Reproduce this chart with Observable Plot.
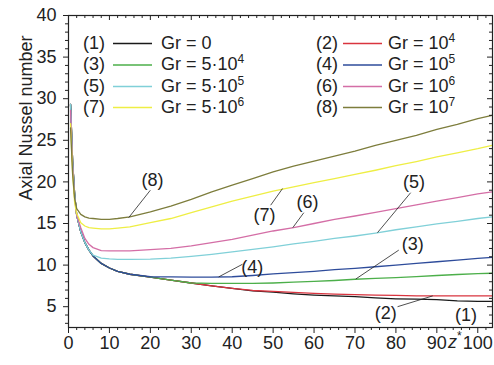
<!DOCTYPE html>
<html><head><meta charset="utf-8">
<script src="https://cdn.jsdelivr.net/npm/d3@7"></script>
<script src="https://cdn.jsdelivr.net/npm/@observablehq/plot@0.6"></script>
<style>body{margin:0;background:#fff}</style>
</head><body><div id="chart"></div>
<script>
// axial positions z*
const zValues = [0.5, 1, 1.5, 2, 3, 4, 5, 6, 8, 10, 12, 15, 20, 25, 30, 35, 40, 45, 50, 55, 60, 65, 70, 75, 80, 85, 90, 95, 100, 103.5];
// Axial Nusselt number per Grashof number
const nu1 = [29.3, 22.5, 18.5, 16.0, 14.0, 12.7, 11.8, 11.1, 10.2, 9.65, 9.25, 8.9, 8.55, 8.2, 7.85, 7.5, 7.2, 6.9, 6.75, 6.55, 6.4, 6.3, 6.2, 6.05, 5.95, 5.9, 5.85, 5.7, 5.65, 5.65];
const nu2 = [29.3, 22.5, 18.5, 16.0, 14.0, 12.7, 11.8, 11.1, 10.2, 9.65, 9.25, 8.9, 8.55, 8.2, 7.85, 7.5, 7.2, 6.95, 6.85, 6.72, 6.6, 6.5, 6.45, 6.4, 6.35, 6.3, 6.3, 6.3, 6.3, 6.3];
const nu3 = [29.3, 22.5, 18.5, 16.0, 14.0, 12.7, 11.8, 11.1, 10.2, 9.65, 9.25, 8.9, 8.55, 8.2, 7.85, 7.8, 7.8, 7.8, 7.85, 7.95, 8.05, 8.15, 8.3, 8.4, 8.5, 8.62, 8.75, 8.87, 8.97, 9.02];
const nu4 = [29.3, 22.5, 18.5, 16.0, 14.0, 12.7, 11.8, 11.1, 10.2, 9.65, 9.25, 8.9, 8.6, 8.58, 8.56, 8.56, 8.6, 8.75, 8.95, 9.1, 9.25, 9.45, 9.6, 9.8, 10.0, 10.2, 10.4, 10.6, 10.8, 10.92];
const nu5 = [29.3, 22.5, 18.5, 16.0, 14.0, 12.7, 11.8, 11.2, 10.85, 10.75, 10.7, 10.7, 10.72, 10.85, 11.05, 11.3, 11.6, 11.9, 12.2, 12.55, 12.85, 13.2, 13.5, 13.85, 14.25, 14.6, 14.95, 15.25, 15.6, 15.8];
const nu6 = [28.6, 22.0, 18.0, 16.0, 14.5, 13.2, 12.5, 12.1, 11.75, 11.7, 11.7, 11.72, 11.85, 12.0, 12.3, 12.7, 13.1, 13.6, 14.1, 14.5, 15.0, 15.5, 15.9, 16.35, 16.8, 17.25, 17.7, 18.1, 18.55, 18.8];
const nu7 = [27.0, 21.0, 17.5, 16.2, 15.1, 14.7, 14.5, 14.45, 14.35, 14.35, 14.45, 14.6, 15.1, 15.6, 16.3, 17.0, 17.7, 18.3, 18.9, 19.4, 19.9, 20.4, 20.9, 21.4, 21.95, 22.45, 23.0, 23.5, 24.0, 24.4];
const nu8 = [26.5, 21.0, 18.0, 16.8, 16.1, 15.8, 15.65, 15.6, 15.5, 15.5, 15.6, 15.8, 16.4, 17.1, 17.9, 18.8, 19.6, 20.4, 21.2, 21.9, 22.5, 23.1, 23.7, 24.4, 25.0, 25.6, 26.3, 26.9, 27.6, 28.0];

const seriesIds = ["(1)", "(2)", "(3)", "(4)", "(5)", "(6)", "(7)", "(8)"];
const grBase = ["Gr = 0", "Gr = 10", "Gr = 5·10", "Gr = 10", "Gr = 5·10", "Gr = 10", "Gr = 5·10", "Gr = 10"];
const grExp = ["", "4", "4", "5", "5", "6", "6", "7"];
const colors = ["#1a1a1a", "#d9343f", "#4caf4a", "#2e4c9b", "#80d0d8", "#d46ea6", "#eeee44", "#7d7d3c"];

const xTicks = [0, 10, 20, 30, 40, 50, 60, 70, 80, 90, 100];
const xMinor = d3.range(0, 104, 2).filter(v => v % 10 !== 0);
const yTicks = [5, 10, 15, 20, 25, 30, 35, 40];
const yMinor = d3.range(3, 41, 1).filter(v => v % 5 !== 0);

// curve annotations
const annoLabel = ["(8)", "(7)", "(6)", "(5)", "(4)", "(3)", "(2)", "(1)"];
const annoZ = [20.5, 47.9, 58.4, 84.4, 44.9, 84.1, 77.5, 97.1];
const annoV = [20.2, 16.0, 17.5, 19.9, 9.75, 12.5, 4.2, 3.95];
const leadZ1 = [20.0, 49.4, 57.5, 83.6, 42.5, 80.7, 80.4];
const leadV1 = [19.0, 17.2, 16.3, 18.7, 10.1, 11.8, 5.0];
const leadZ2 = [14.7, 52.3, 54.8, 75.5, 36.7, 70.2, 89.0];
const leadV2 = [15.7, 19.2, 14.5, 13.9, 8.58, 8.33, 6.3];

const allSeries = [nu1, nu2, nu3, nu4, nu5, nu6, nu7, nu8];
const W = 494, H = 365, mL = 68, mR = 2, mT = 15, mB = 38;
const pw = W - mL - mR, ph = H - mT - mB;
const font = "'Liberation Sans', Arial, Helvetica, sans-serif";
const ink = "#222";

const lineMarks = allSeries.map((vals, i) =>
  Plot.line(vals.map((v, j) => ({z: zValues[j], nu: v})), {x: "z", y: "nu", stroke: colors[i], strokeWidth: 1.3})
);
const leaders = leadZ1.map((z, i) => ({x1: z, y1: leadV1[i], x2: leadZ2[i], y2: leadV2[i]}));
const annos = annoLabel.map((t, i) => ({t, z: annoZ[i], v: annoV[i]}));

const svg = Plot.plot({
  width: W, height: H,
  marginLeft: mL, marginRight: mR, marginTop: mT, marginBottom: mB,
  style: {fontFamily: font, fontSize: "18px", color: ink, background: "#fff"},
  x: {domain: [0, 103.6]},
  y: {domain: [2.5, 40]},
  marks: [
    ...lineMarks,
    Plot.link(leaders, {x1: "x1", y1: "y1", x2: "x2", y2: "y2", stroke: ink, strokeWidth: 0.8}),
    Plot.text(annos, {x: "z", y: "v", text: "t", fontSize: 18, fill: ink}),
    Plot.frame({stroke: ink, strokeWidth: 1.2}),
    Plot.axisX({ticks: xTicks, tickSize: 6, tickPadding: 3, label: null, fontSize: 18, stroke: ink, fill: ink}),
    Plot.tickX(xMinor, {x: d => d, insetTop: ph, insetBottom: -3, stroke: ink}),
    Plot.tickX(xTicks, {x: d => d, insetBottom: ph - 5, stroke: ink}),
    Plot.tickX(xMinor, {x: d => d, insetBottom: ph - 3, stroke: ink}),
    Plot.axisY({ticks: yTicks, tickSize: 5, tickPadding: 7, label: null, fontSize: 18, stroke: ink, fill: ink}),
    Plot.tickY(yMinor, {y: d => d, insetRight: pw, insetLeft: -3, stroke: ink}),
    Plot.tickY(yTicks, {y: d => d, insetLeft: pw - 5, stroke: ink}),
    Plot.tickY(yMinor, {y: d => d, insetLeft: pw - 3, stroke: ink})
  ]
});

const s = d3.select(svg);
// y-axis title
s.append("text").attr("transform", "translate(32,118) rotate(-90)")
  .attr("text-anchor", "middle").attr("font-size", 18).attr("fill", ink)
  .attr("font-family", font).text("Axial Nussel number");
// x-axis title z*
const xt = s.append("text").attr("x", 448).attr("y", 348).attr("font-size", 18)
  .attr("text-anchor", "start").attr("fill", ink).attr("font-family", font);
xt.append("tspan").attr("font-style", "italic").text("z");
xt.append("tspan").attr("dy", -8).attr("font-size", 12).text("*");

// legend
const rowY = [42.5, 64, 85.5, 106.5];
const cols = [
  {idEnd: 105, l1: 113, l2: 152, tx: 161},
  {idEnd: 338, l1: 343, l2: 382, tx: 388}
];
const lg = s.append("g").attr("font-family", font).attr("font-size", 18).attr("fill", ink);
seriesIds.forEach((id, i) => {
  const c = cols[i % 2], y = rowY[Math.floor(i / 2)];
  lg.append("text").attr("x", c.idEnd).attr("y", y).attr("dy", "0.35em").attr("text-anchor", "end").text(id);
  lg.append("line").attr("x1", c.l1).attr("x2", c.l2).attr("y1", y + 1).attr("y2", y + 1)
    .attr("stroke", colors[i]).attr("stroke-width", 1.5);
  const t = lg.append("text").attr("x", c.tx).attr("y", y).attr("dy", "0.35em").attr("text-anchor", "start");
  t.append("tspan").text(grBase[i]);
  if (grExp[i]) t.append("tspan").attr("dy", -7).attr("font-size", 12).text(grExp[i]);
});

document.getElementById("chart").appendChild(svg);
</script>
</body></html>
